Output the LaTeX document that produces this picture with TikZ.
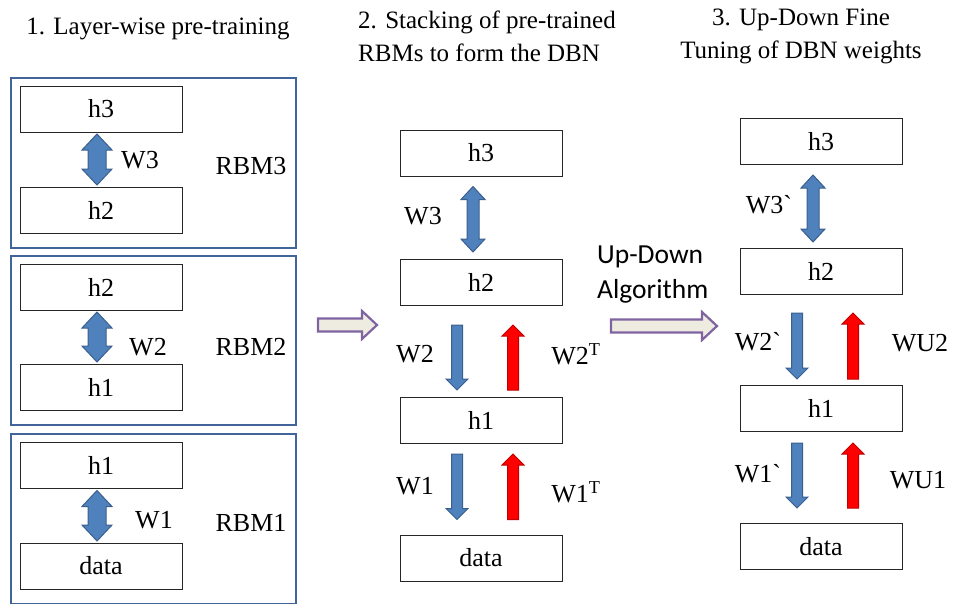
\documentclass[tikz,border=0pt]{standalone}
\usepackage{fontspec}
\setmainfont{Liberation Serif}
\newfontfamily\calib{Carlito}
\usetikzlibrary{calc}
\definecolor{arrblue}{HTML}{4F81BD}
\definecolor{arrbluedk}{HTML}{3A5F8E}
\definecolor{rbmframe}{HTML}{41659A}
\definecolor{arrred}{HTML}{FF0000}
\definecolor{arrreddk}{HTML}{C00000}
\definecolor{purpedge}{HTML}{8064A2}
\definecolor{beigefill}{HTML}{EEECE1}
\newcommand{\vblk}[6]{%
 \path[#1] let \p1=(#2), \p2=(#3), \p3=($(#3)!#6pt!(#2)$) in
  (\x1-#4pt,\y1) -- (\x1-#4pt,\y3) -- (\x1-#5pt,\y3) -- (\x1,\y2) -- (\x1+#5pt,\y3) -- (\x1+#4pt,\y3) -- (\x1+#4pt,\y1) -- cycle;}
\newcommand{\dblk}[6]{%
 \path[#1] let \p1=(#2), \p2=(#3), \p3=($(#2)!#6pt!(#3)$), \p4=($(#3)!#6pt!(#2)$) in
  (\x1,\y1) -- (\x1+#5pt,\y3) -- (\x1+#4pt,\y3) -- (\x1+#4pt,\y4) -- (\x1+#5pt,\y4) -- (\x1,\y2) -- (\x1-#5pt,\y4) -- (\x1-#4pt,\y4) -- (\x1-#4pt,\y3) -- (\x1-#5pt,\y3) -- cycle;}
\newcommand{\hblk}[6]{%
 \path[#1] let \p1=(#2), \p2=(#3), \p3=($(#3)!#6pt!(#2)$) in
  (\x1,\y1-#4pt) -- (\x3,\y1-#4pt) -- (\x3,\y1-#5pt) -- (\x2,\y1) -- (\x3,\y1+#5pt) -- (\x3,\y1+#4pt) -- (\x1,\y1+#4pt) -- cycle;}
\tikzset{
 layer/.style={draw=black!85, line width=1pt, minimum width=162pt, minimum height=46pt, inner sep=0pt, font=\fontsize{26}{30}\selectfont},
 rbmbox/.style={draw=rbmframe, line width=2.8pt, minimum width=285pt, inner sep=0pt},
 lab/.style={inner sep=0pt, font=\fontsize{26}{30}\selectfont},
 ttl/.style={inner sep=0pt, font=\fontsize{25}{33}\selectfont},
 bluearr/.style={fill=arrblue, draw=arrbluedk, line width=1pt},
 redarr/.style={fill=arrred, draw=arrreddk, line width=1pt},
 purparr/.style={fill=beigefill, draw=purpedge, line width=2.2pt}
}
\begin{document}
\begin{tikzpicture}[x=1pt,y=-1pt]
\useasboundingbox (0,0) rectangle (956,603);
% titles
\node[ttl] (t1) at (158,29) {1. Layer-wise pre-training};
\node[ttl, align=left, anchor=west] (t2) at (358,36) {2. Stacking of pre-trained\\RBMs to form the DBN};
\node[ttl, align=center] (t3) at (801,36) {3. Up-Down Fine\\Tuning of DBN weights};
% left column: RBM boxes
\node[rbmbox, minimum height=170pt] (rbm3box) at (153.5,163) {};
\node[rbmbox, minimum height=169pt] (rbm2box) at (153.5,340.5) {};
\node[rbmbox, minimum height=170pt] (rbm1box) at (153.5,519) {};
\node[layer] (a3h3) at (101,109) {h3};
\node[layer] (a3h2) at (101,210) {h2};
\node[layer] (a2h2) at (101,287) {h2};
\node[layer] (a2h1) at (101,387) {h1};
\node[layer] (a1h1) at (101,465.5) {h1};
\node[layer] (a1d) at (101,566) {data};
\dblk{bluearr}{$(a3h3.south)+(-4,1.5)$}{$(a3h2.north)+(-4,-1.5)$}{9}{15}{16}
\dblk{bluearr}{$(a2h2.south)+(-4,1.5)$}{$(a2h1.north)+(-4,-1.5)$}{9}{15}{16}
\dblk{bluearr}{$(a1h1.south)+(-4,1.5)$}{$(a1d.north)+(-4,-1.5)$}{9}{15}{16}
\node[lab] (lw3) at (140,160) {W3};
\node[lab] (lw2) at (148,347) {W2};
\node[lab] (lw1) at (154,520) {W1};
\node[lab] (rbm3) at (251,166) {RBM3};
\node[lab] (rbm2) at (251,347) {RBM2};
\node[lab] (rbm1) at (251,523) {RBM1};
% middle column
\node[layer] (mh3) at (481,153) {h3};
\node[layer] (mh2) at (481,282.5) {h2};
\node[layer] (mh1) at (481,420.5) {h1};
\node[layer] (md) at (481,558) {data};
\dblk{bluearr}{$(mh3.south)+(-8,10)$}{$(mh2.north)+(-8,-7)$}{6}{12}{13}
\vblk{bluearr}{$(mh2.south)+(-24,19)$}{$(mh1.north)+(-24,-7)$}{5.5}{11}{11}
\vblk{redarr}{$(mh1.north)+(32,-7)$}{$(mh2.south)+(32,19)$}{5.5}{11}{11}
\vblk{bluearr}{$(mh1.south)+(-24,10)$}{$(md.north)+(-24,-15)$}{5.5}{11}{11}
\vblk{redarr}{$(md.north)+(32,-15)$}{$(mh1.south)+(32,10)$}{5.5}{11}{11}
\node[lab] (mw3) at (423,216) {W3};
\node[lab] (mw2) at (415,354) {W2};
\node[lab] (mw2t) at (576,354) {W2\textsuperscript{T}};
\node[lab] (mw1) at (415,486) {W1};
\node[lab] (mw1t) at (576,492) {W1\textsuperscript{T}};
% right column
\node[layer] (rh3) at (821,141.5) {h3};
\node[layer] (rh2) at (821,271.5) {h2};
\node[layer] (rh1) at (821,408.5) {h1};
\node[layer] (rd) at (821,546.5) {data};
\dblk{bluearr}{$(rh3.south)+(-8,10)$}{$(rh2.north)+(-8,-6)$}{6}{12}{13}
\vblk{bluearr}{$(rh2.south)+(-24,18)$}{$(rh1.north)+(-24,-6)$}{5.5}{11}{11}
\vblk{redarr}{$(rh1.north)+(32,-6)$}{$(rh2.south)+(32,18)$}{5.5}{11}{11}
\vblk{bluearr}{$(rh1.south)+(-24,11)$}{$(rd.north)+(-24,-15)$}{5.5}{11}{11}
\vblk{redarr}{$(rd.north)+(32,-15)$}{$(rh1.south)+(32,11)$}{5.5}{11}{11}
\node[lab] (rw3) at (769,205) {W3\textasciigrave};
\node[lab] (rw2) at (758,342) {W2\textasciigrave};
\node[lab] (rwu2) at (920,343) {WU2};
\node[lab] (rw1) at (758,474) {W1\textasciigrave};
\node[lab] (rwu1) at (918,480) {WU1};
% transitions
\coordinate (pa1s) at (318,325);
\coordinate (pa1e) at (377,325);
\coordinate (pa2s) at (611,326);
\coordinate (pa2e) at (717,326);
\hblk{purparr}{pa1s}{pa1e}{6.5}{14}{15}
\hblk{purparr}{pa2s}{pa2e}{6.5}{14}{15}
\node[inner sep=0pt, font=\calib\fontsize{27.5}{35}\selectfont, align=left, anchor=west] (ud) at (597,274.5) {Up-Down\\Algorithm};
\end{tikzpicture}
\end{document}
